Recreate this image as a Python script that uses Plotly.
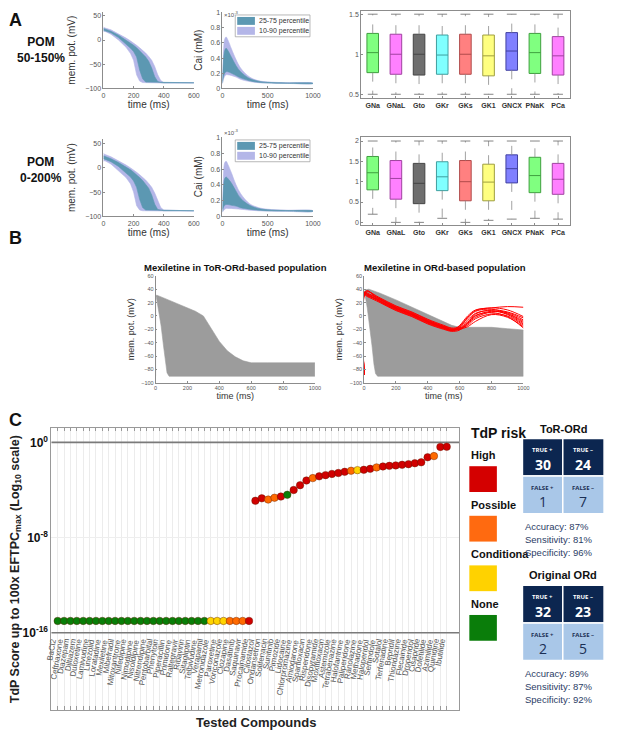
import plotly.graph_objects as go

# picture size, and the page margin the browser puts round the figure
W, H = 617, 734
OFF = 8
FW, FH = W - OFF, H - OFF

# ---------------- Panel A data ----------------
ap_t = [0, 10, 50, 100, 150, 180, 200, 220, 240, 260, 280, 300, 320, 340, 360, 380, 400, 600]
# POM 50-150 %
ap1_p90 = [27, 25, 21, 13, 4, -2, -6, -11, -16, -21, -27, -34, -42, -55, -72, -84, -88, -88]
ap1_p75 = [24, 23, 18, 10, 0, -6, -11, -16, -22, -28, -35, -44, -58, -76, -86, -88, -88.5, -88.5]
ap1_p25 = [20, 20, 15, 5, -8, -17, -24, -35, -62, -80, -87, -88, -88.5, -88.5, -88.5, -88.5, -88.5, -88.5]
ap1_p10 = [17, 18, 12, 0, -15, -28, -42, -72, -85, -88, -89, -89, -89, -89, -89, -89, -89, -89]
# POM 0-200 %
ap2_p90 = [30, 28, 23, 15, 6, 0, -4, -9, -14, -19, -25, -32, -40, -52, -68, -82, -87, -88]
ap2_p75 = [25, 24, 19, 11, 2, -4, -9, -14, -20, -26, -33, -42, -56, -75, -86, -88, -88.5, -88.5]
ap2_p25 = [19, 19, 13, 3, -10, -19, -27, -40, -65, -82, -87, -88, -88.5, -88.5, -88.5, -88.5, -88.5, -88.5]
ap2_p10 = [14, 15, 8, -5, -20, -33, -50, -78, -87, -88.5, -89, -89, -89, -89, -89, -89, -89, -89]

cai_t = [0, 10, 25, 40, 60, 100, 150, 200, 300, 400, 500, 700, 1000]
# Cai in units of 1e-3 mM
cai1_p90 = [0.10, 0.45, 0.65, 0.68, 0.64, 0.52, 0.38, 0.27, 0.15, 0.10, 0.085, 0.075, 0.070]
cai1_p75 = [0.09, 0.35, 0.50, 0.53, 0.50, 0.41, 0.30, 0.22, 0.13, 0.095, 0.080, 0.072, 0.068]
cai1_p25 = [0.07, 0.15, 0.20, 0.22, 0.22, 0.20, 0.17, 0.14, 0.10, 0.080, 0.072, 0.068, 0.065]
cai1_p10 = [0.06, 0.12, 0.16, 0.18, 0.18, 0.17, 0.15, 0.12, 0.09, 0.075, 0.070, 0.066, 0.063]
cai2_p90 = [0.10, 0.48, 0.68, 0.70, 0.66, 0.55, 0.40, 0.29, 0.16, 0.11, 0.090, 0.078, 0.072]
cai2_p75 = [0.09, 0.33, 0.48, 0.50, 0.48, 0.42, 0.32, 0.23, 0.14, 0.10, 0.083, 0.074, 0.069]
cai2_p25 = [0.06, 0.11, 0.14, 0.15, 0.15, 0.14, 0.13, 0.11, 0.09, 0.077, 0.070, 0.066, 0.064]
cai2_p10 = [0.05, 0.07, 0.09, 0.10, 0.10, 0.10, 0.095, 0.09, 0.078, 0.070, 0.066, 0.063, 0.062]

currents = ["GNa", "GNaL", "Gto", "GKr", "GKs", "GK1", "GNCX", "PNaK", "PCa"]
box_fill = ["#80ff80", "#ff80ff", "#6e6e6e", "#80ffff", "#ff8080", "#ffff80", "#8080ff", "#80ff80", "#ff80ff"]
box_edge = ["#3f9f3f", "#a040a0", "#444444", "#3f9f9f", "#b04a4a", "#9f9f3f", "#4040a0", "#3f9f3f", "#a040a0"]
# POM 50-150 %
b1_q1 = [0.77, 0.75, 0.74, 0.75, 0.75, 0.73, 0.80, 0.76, 0.74]
b1_med = [1.02, 1.00, 1.00, 0.99, 1.00, 0.98, 1.04, 1.02, 0.98]
b1_q3 = [1.26, 1.25, 1.25, 1.24, 1.25, 1.24, 1.27, 1.26, 1.22]
b1_lo = [0.5, 0.5, 0.5, 0.5, 0.5, 0.5, 0.5, 0.5, 0.5]
b1_hi = [1.5, 1.5, 1.5, 1.5, 1.5, 1.5, 1.5, 1.5, 1.5]
# POM 0-200 %
b2_q1 = [0.80, 0.57, 0.46, 0.78, 0.53, 0.53, 0.97, 0.73, 0.69]
b2_med = [1.22, 1.08, 0.96, 1.12, 1.00, 0.99, 1.32, 1.15, 1.06]
b2_q3 = [1.62, 1.52, 1.45, 1.49, 1.52, 1.43, 1.66, 1.60, 1.45]
b2_lo = [0.20, 0.0, 0.0, 0.10, 0.0, 0.05, 0.08, 0.10, 0.08]
b2_hi = [2.0, 2.0, 2.0, 2.0, 2.0, 2.0, 2.0, 2.0, 2.0]

# ---------------- Panel B data ----------------
tor_up_t = [0, 8, 50, 100, 150, 200, 250, 300, 350, 400, 450, 500, 550, 600, 700, 800, 1000]
tor_up_v = [30, 31, 27, 22, 17, 12, 7, 0, -18, -38, -52, -61, -67, -70, -70, -70, -70]
fast_t = [1000, 85, 72, 62, 50, 35, 20, 5]
tor_fast_v = [-90, -90, -85, -70, -45, -15, 10, 28]
ord_up_t = [0, 10, 30, 100, 200, 300, 400, 500, 550, 600, 700, 800, 900, 1000]
ord_up_v = [36, 39, 40, 34, 24, 13, 3, -8, -14, -17, -17, -17, -19, -21]
ord_fast_v = [-90, -90, -86, -72, -45, -15, 12, 33]

red_t = [0, 2, 20, 100, 200, 300, 400, 500, 550, 600, 650, 700, 800, 900, 1000]
red_traces = [
    [-88, 33, 30, 24, 12, 3, -8, -17, -21, -17, -6, 4, 8, 2, -12],
    [-88, 35, 33, 25, 13, 4, -7, -15, -19, -20, -12, -2, 6, 5, -6],
    [-88, 30, 36, 27, 15, 6, -5, -14, -18, -16, -3, 7, 10, 4, -8],
    [-88, 34, 38, 22, 10, 1, -10, -18, -22, -14, 0, 9, 12, 14, 13],
    [-88, 32, 31, 21, 9, 0, -11, -19, -22, -20, -16, -8, 2, -2, -16],
    [-88, 36, 34, 26, 14, 5, -6, -16, -20, -18, -9, 1, 5, -1, -18],
    [-88, 31, 29, 20, 8, -1, -12, -20, -23, -21, -10, 3, 9, 6, -3],
    [-88, 34, 32, 23, 11, 2, -9, -18, -21, -19, -14, -4, 3, 0, -14],
    [-88, 33, 37, 25, 12, 3, -8, -16, -20, -15, -2, 8, 12, 9, -1],
    [-88, 35, 32, 22, 11, 2, -9, -17, -21, -19, -11, 0, 7, 3, -10],
]

# ---------------- Panel C data ----------------
compounds = [
    "BaCl2", "Ceftriaxone", "Diazepam", "Diltiazem", "Duloxetine", "Lamivudine", "Linezolid",
    "Loratadine", "Mexiletine", "Mibefradil", "Mitoxantrone", "Nifedipine", "Nimodipine",
    "Nisoldipine", "Nitrendipine", "Pentobarbital", "Phenytoin", "Piperacillin", "Primidone",
    "Raltegravir", "Ribavirin", "Sitagliptin", "Telbivudine", "Verapamil", "Metronidazole",
    "Paroxetine", "Voriconazole", "Clozapine", "Dasatinib", "Saquinavir", "Procainamide",
    "Cilostazol", "Ondansetron", "Solifenacin", "Sunitinib", "Pimozide", "Lidocaine",
    "Chlorpromazine", "Amiodarone", "Sparfloxacin", "Risperidone", "Disopyramide",
    "Moxifloxacin", "Astemizole", "Tetrabenazine", "Halofantrine", "Paliperidone", "Ranolazine",
    "Methadone", "Haloperidol", "Sertindole", "Sotalol", "Terfenadine", "Bepridil",
    "Thioridazine", "Flecainide", "Droperidol", "Cisapride", "Dofetilide", "Azimilide",
    "Quinidine", "Ibutilide",
]
risk = (
    ["None"] * 24 + ["Conditional"] * 3 + ["Possible"] * 3 + ["High"]
    + ["High", "High", "Possible", "Possible", "High", "None", "High", "High", "High", "Possible",
       "High", "High", "High", "High", "High", "Possible", "Conditional", "High", "High", "Possible",
       "High", "High", "High", "High", "High", "High", "High", "High", "Possible", "High", "High"]
)
tdp_score = [
    1e-15, 1e-15, 1e-15, 1e-15, 1e-15, 1e-15, 1e-15, 1e-15, 1e-15, 1e-15, 1e-15, 1e-15,
    1e-15, 1e-15, 1e-15, 1e-15, 1e-15, 1e-15, 1e-15, 1e-15, 1e-15, 1e-15, 1e-15, 1e-15,
    1e-15, 1e-15, 1e-15, 1e-15, 1e-15, 1e-15, 1e-15,
    1.26e-5, 2.0e-5, 1.58e-5, 2.24e-5, 2.82e-5, 3.98e-5, 1.0e-4, 2.51e-4, 6.31e-4, 1.0e-3,
    1.41e-3, 1.78e-3, 2.24e-3, 2.69e-3, 3.39e-3, 4.17e-3, 4.68e-3, 5.01e-3, 6.03e-3, 7.94e-3,
    9.55e-3, 1.07e-2, 1.17e-2, 1.32e-2, 1.48e-2, 1.78e-2, 2.14e-2, 5.62e-2, 7.08e-2, 0.42, 0.43,
]
risk_colors = {"High": "#d00000", "Possible": "#ff6a00", "Conditional": "#ffd400", "None": "#087f08"}
legend_items = ["High", "Possible", "Conditiona", "None"]
legend_colors = ["#d40000", "#ff6a10", "#ffd200", "#0a7d0a"]

tables = [
    ("ToR-ORd", [30, 24, 1, 7], ["Accuracy: 87%", "Sensitivity: 81%", "Specificity: 96%"]),
    ("Original ORd", [32, 23, 2, 5], ["Accuracy: 89%", "Sensitivity: 87%", "Specificity: 92%"]),
]


def px(x):
    return (x - OFF) / FW


def py(y):
    return 1 - (y - OFF) / FH


def clamp(v):
    return min(1.0, max(0.0, v))


def xd(a, b):
    return [clamp(px(a)), clamp(px(b))]


def yd(top, bottom):
    return [clamp(py(bottom)), clamp(py(top))]


def note(text, x, y, size, color="#111", xanchor="center", **kw):
    # text placed in picture pixels (from the top-left corner)
    d = dict(text=text, x=px(x), y=py(y), xref="paper", yref="paper", showarrow=False,
             xanchor=xanchor, yanchor="middle", font=dict(size=size, color=color))
    d.update(kw)
    return d


def rect(x0, x1, y0, y1, fill, line=None):
    return dict(type="rect", xref="paper", yref="paper", x0=px(x0), x1=px(x1), y0=py(y0),
                y1=py(y1), fillcolor=fill, line=line or dict(width=0))


def axis(domain, anchor, rng, tickvals=None, ticktext=None, size=7, mirror=False, title=None,
         tsize=10, standoff=2, **kw):
    d = dict(domain=domain, anchor=anchor, range=rng, showline=True, linecolor="#8c8c8c",
             linewidth=0.8, ticks="inside", ticklen=2, tickcolor="#8c8c8c",
             tickfont=dict(size=size, color="#555"), showgrid=False, zeroline=False,
             mirror=mirror, fixedrange=True)
    if tickvals is not None:
        d["tickvals"] = tickvals
    if ticktext is not None:
        d["ticktext"] = ticktext
    if title:
        d["title"] = dict(text=title, font=dict(size=tsize, color="#333"), standoff=standoff)
    d.update(kw)
    return d


LAV = "rgb(180,182,232)"
TEAL = "rgb(92,152,178)"

fig = go.Figure()
layout = {}
annotations = []
shapes = []

# ---------- Panel A: AP and Cai bands ----------
rows = [
    (1, 9, 86, 9, 86, 8, 96, ap1_p10, ap1_p25, ap1_p75, ap1_p90,
     cai1_p10, cai1_p25, cai1_p75, cai1_p90, b1_q1, b1_med, b1_q3, b1_lo, b1_hi,
     [0.45, 1.54], [0.5, 1, 1.5], ["0.5", "1", "1.5"], "POM<br>50-150%", 47),
    (2, 137, 215, 135, 215, 135, 224, ap2_p10, ap2_p25, ap2_p75, ap2_p90,
     cai2_p10, cai2_p25, cai2_p75, cai2_p90, b2_q1, b2_med, b2_q3, b2_lo, b2_hi,
     [-0.07, 2.1], [0, 0.5, 1, 1.5, 2], ["0", "0.5", "1", "1.5", "2"], "POM<br>0-200%", 168),
]
for (r, apt, apb, cat, cab, bt, bb, p10, p25, p75, p90, c10, c25, c75, c90,
     q1, med, q3, lo, hi, brng, btv, btt, pomtxt, pomy) in rows:
    k = 3 * (r - 1)
    xa, xc, xb = f"x{k + 1}" if k else "x", f"x{k + 2}", f"x{k + 3}"
    ya, yc, yb = f"y{k + 1}" if k else "y", f"y{k + 2}", f"y{k + 3}"
    # AP bands
    fig.add_trace(go.Scatter(x=ap_t + ap_t[::-1], y=p90 + p10[::-1], fill="toself",
                             fillcolor=LAV, line=dict(color=LAV, width=0.6), mode="lines",
                             xaxis=xa, yaxis=ya, showlegend=False, hoverinfo="skip"))
    fig.add_trace(go.Scatter(x=ap_t + ap_t[::-1], y=p75 + p25[::-1], fill="toself",
                             fillcolor=TEAL, line=dict(color=TEAL, width=0.6), mode="lines",
                             xaxis=xa, yaxis=ya, showlegend=False, hoverinfo="skip"))
    # Cai bands
    fig.add_trace(go.Scatter(x=cai_t + cai_t[::-1], y=c90 + c10[::-1], fill="toself",
                             fillcolor=LAV, line=dict(color=LAV, width=0.6, shape="spline"),
                             mode="lines", xaxis=xc, yaxis=yc, showlegend=False, hoverinfo="skip"))
    fig.add_trace(go.Scatter(x=cai_t + cai_t[::-1], y=c75 + c25[::-1], fill="toself",
                             fillcolor=TEAL, line=dict(color=TEAL, width=0.6, shape="spline"),
                             mode="lines", xaxis=xc, yaxis=yc, showlegend=False, hoverinfo="skip"))
    # box plots
    for i, cur in enumerate(currents):
        fig.add_trace(go.Box(x=[i], q1=[q1[i]], median=[med[i]], q3=[q3[i]],
                             lowerfence=[q1[i]], upperfence=[q3[i]], width=0.5,
                             fillcolor=box_fill[i], line=dict(color=box_edge[i], width=1),
                             whiskerwidth=0, boxpoints=False, xaxis=xb, yaxis=yb,
                             showlegend=False, hoverinfo="skip"))
    wx, wy, cx, cy = [], [], [], []
    for i in range(len(currents)):
        wx += [i, i, None, i, i, None]
        wy += [q3[i], hi[i], None, q1[i], lo[i], None]
        cx += [i, i]
        cy += [hi[i], lo[i]]
    fig.add_trace(go.Scatter(x=wx, y=wy, mode="lines", line=dict(color="#8a8a8a", width=0.8, dash="dash"),
                             xaxis=xb, yaxis=yb, showlegend=False, hoverinfo="skip"))
    fig.add_trace(go.Scatter(x=cx, y=cy, mode="markers",
                             marker=dict(symbol="line-ew", size=7, line=dict(color="#666", width=0.8)),
                             xaxis=xb, yaxis=yb, showlegend=False, hoverinfo="skip"))

    kx = "" if k == 0 else str(k + 1)
    ap_rng = [-100, 60] if r == 2 else [-100, 58]
    layout[f"xaxis{kx}"] = axis(xd(103, 195), ya, [0, 600], [0, 200, 400, 600],
                                title="time (ms)", standoff=3)
    layout[f"yaxis{kx}"] = axis(yd(apt, apb), xa, ap_rng, [-100, -50, 0, 50],
                                title="mem. pot. (mV)", standoff=7)
    layout[f"xaxis{k + 2}"] = axis(xd(224, 316), yc, [0, 1000], [0, 500, 1000],
                                   title="time (ms)", standoff=3)
    layout[f"yaxis{k + 2}"] = axis(yd(cat, cab), xc, [0, 1.01], [0, 0.2, 0.4, 0.6, 0.8, 1],
                                   ["0", "0.2", "0.4", "0.6", "0.8", "1"], title="Cai (mM)", standoff=5)
    layout[f"xaxis{k + 3}"] = axis(xd(365, 577), yb, [-0.5, 8.5], list(range(9)),
                                   [f"<b>{c}</b>" for c in currents], size=7, mirror=True,
                                   tickfont=dict(size=7, color="#333"))
    layout[f"yaxis{k + 3}"] = axis(yd(bt, bb), xb, brng, btv, btt, size=7, mirror=True)

    annotations.append(note(f"<b>{pomtxt}</b>", 40, pomy, 12))
    annotations.append(note("×10<sup>-3</sup>", 224, max(cat - 5, 11), 6, "#555", xanchor="left"))
    # legend box in Cai plot
    lt = cat + 3
    shapes.append(rect(237, 313, lt, lt + 22, "white", dict(color="#999", width=0.7)))
    for j, (col, lab) in enumerate([(TEAL, "25-75 percentile"), (LAV, "10-90 percentile")]):
        yy = lt + 6 + 10 * j
        shapes.append(rect(239, 257, yy - 4, yy + 4, col))
        annotations.append(note(lab, 259, yy, 7, "#333", xanchor="left"))

# ---------- Panel B ----------
fig.add_trace(go.Scatter(x=tor_up_t + fast_t, y=tor_up_v + tor_fast_v, fill="toself",
                         fillcolor="#9c9c9c", line=dict(color="#9c9c9c", width=0.6),
                         mode="lines", xaxis="x7", yaxis="y7", showlegend=False, hoverinfo="skip"))
fig.add_trace(go.Scatter(x=[0, 0], y=[-90, 30], mode="lines", line=dict(color="#9c9c9c", width=1),
                         xaxis="x7", yaxis="y7", showlegend=False, hoverinfo="skip"))
fig.add_trace(go.Scatter(x=ord_up_t + fast_t, y=ord_up_v + ord_fast_v, fill="toself",
                         fillcolor="#9c9c9c", line=dict(color="#9c9c9c", width=0.6),
                         mode="lines", xaxis="x8", yaxis="y8", showlegend=False, hoverinfo="skip"))
for tr in red_traces:
    fig.add_trace(go.Scatter(x=red_t, y=tr, mode="lines",
                             line=dict(color="#ff0000", width=1, shape="spline"),
                             xaxis="x8", yaxis="y8", showlegend=False, hoverinfo="skip"))

bticks = [0, 200, 400, 600, 800, 1000]
vticks = [-100, -80, -60, -40, -20, 0, 20, 40, 60]
layout["xaxis7"] = axis(xd(156, 318), "y7", [0, 1000], bticks, size=5.5, title="time (ms)", tsize=9)
layout["yaxis7"] = axis(yd(275, 383), "x7", [-100, 60], vticks, size=5.5, title="mem. pot. (mV)",
                        tsize=9, standoff=5)
layout["xaxis8"] = axis(xd(368, 530), "y8", [0, 1000], bticks, size=5.5, title="time (ms)", tsize=9)
layout["yaxis8"] = axis(yd(275, 383), "x8", [-100, 60], vticks, size=5.5, title="mem. pot. (mV)",
                        tsize=9, standoff=5)
annotations.append(note("<b>Mexiletine in ToR-ORd-based population</b>", 237, 267, 9.5))
annotations.append(note("<b>Mexiletine in ORd-based population</b>", 450, 267, 9.5))

# ---------- Panel C ----------
xs = list(range(1, len(compounds) + 1))
fig.add_trace(go.Scatter(x=[0, 64, None, 0, 64], y=[1, 1, None, 1e-16, 1e-16], mode="lines",
                         line=dict(color="#7a7a7a", width=1.6), xaxis="x9", yaxis="y9",
                         showlegend=False, hoverinfo="skip"))
fig.add_trace(go.Scatter(x=xs, y=tdp_score, mode="markers",
                         marker=dict(size=7.5, color=[risk_colors[r] for r in risk],
                                     line=dict(color="#5a1a00", width=0.4)),
                         xaxis="x9", yaxis="y9", showlegend=False, text=compounds))
layout["xaxis9"] = dict(domain=xd(50, 465), anchor="y9", range=[0, 64], tickvals=xs,
                        showticklabels=False, ticks="inside", ticklen=4, tickcolor="#999",
                        showgrid=True, gridcolor="#ececec", gridwidth=0.6, showline=True,
                        linecolor="#999", linewidth=0.8, mirror="ticks", zeroline=False,
                        fixedrange=True)
layout["yaxis9"] = dict(domain=yd(428, 713), anchor="x9", type="log", range=[-22.5, 1.25],
                        tickvals=[1e-16, 1e-8, 1],
                        ticktext=["<b>10<sup>-16</sup></b>", "<b>10<sup>-8</sup></b>", "<b>10<sup>0</sup></b>"],
                        tickfont=dict(size=12, color="#111"), ticks="", showgrid=True,
                        gridcolor="#eeeeee", showline=True, linecolor="#999", linewidth=0.8,
                        mirror=True, zeroline=False, fixedrange=True)
for i, name in enumerate(compounds):
    annotations.append(dict(text=name, x=xs[i], y=-16.25, xref="x9", yref="y9", showarrow=False,
                            textangle=-80, xanchor="right", yanchor="top", xshift=3,
                            font=dict(size=8, color="#555")))
annotations.append(note("<b>Tested Compounds</b>", 258, 725, 13, "#222"))
annotations.append(note("<b>TdP Score up to 100x EFTPC<sub>max</sub> (Log<sub>10</sub> scale)</b>",
                        14, 571, 12.5, "#222", textangle=-90))

# legend of TdP risk
annotations.append(note("<b>TdP risk</b>", 475, 434, 14, xanchor="left"))
for j, (lab, col) in enumerate(zip(legend_items, legend_colors)):
    ly = 456 + 50 * j
    annotations.append(note(f"<b>{lab}</b>", 475, ly, 11, xanchor="left"))
    shapes.append(rect(475, 503, ly + 11, ly + 37, col))

# confusion tables
for ti, (title, vals, stats) in enumerate(tables):
    top = 439 if ti == 0 else 587
    left, split, right = 529, 570, 612
    annotations.append(note(f"<b>{title}</b>", (left + right) / 2, top - 10, 11))
    labels = ["TRUE +", "TRUE –", "FALSE +", "FALSE –"]
    cells = [(left, split, top, top + 38), (split, right, top, top + 38),
             (left, split, top + 38, top + 76), (split, right, top + 38, top + 76)]
    for c, (x0, x1, y0, y1) in enumerate(cells):
        dark = c < 2
        shapes.append(rect(x0, x1, y0, y1, "#0c2650" if dark else "#a9c7e8",
                           dict(color="white", width=1.5)))
        tc = "white" if dark else "#1b2f55"
        annotations.append(note(f"<b>{labels[c]}</b>", (x0 + x1) / 2, y0 + 12, 6, tc))
        annotations[-1]["font"]["family"] = "Open Sans"
        annotations.append(note(f"<b>{vals[c]}</b>" if dark else str(vals[c]),
                                (x0 + x1) / 2, y0 + 26, 14, tc))
        annotations[-1]["font"]["family"] = "Open Sans"
    for s, txt in enumerate(stats):
        annotations.append(note(txt, left + 1, top + 89 + 13 * s, 9.5, "#2b3d66", xanchor="left"))

# panel letters
for letter, ly in [("A", 17), ("B", 237), ("C", 420)]:
    annotations.append(note(f"<b>{letter}</b>", 14, ly, 18))

layout.update(dict(width=FW, height=FH, margin=dict(l=0, r=0, t=0, b=0), paper_bgcolor="white",
                   plot_bgcolor="white", showlegend=False,
                   font=dict(family="Liberation Sans, Arial, sans-serif"),
                   annotations=annotations, shapes=shapes))
fig.update_layout(**layout)
fig.write_html("out.html")
